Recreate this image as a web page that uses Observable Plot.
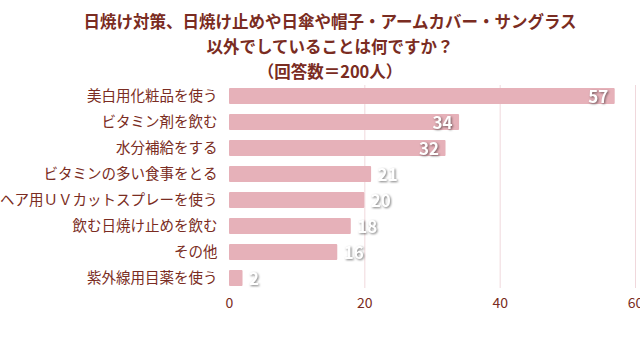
<!DOCTYPE html>
<html>
<head>
<meta charset="utf-8">
<script src="https://cdn.jsdelivr.net/npm/d3@7"></script>
<script src="https://cdn.jsdelivr.net/npm/@observablehq/plot@0.6"></script>
<style>
  html, body { margin: 0; padding: 0; background: #fff; width: 640px; height: 360px; overflow: hidden; }
  #title { height: 80px; box-sizing: border-box; padding-top: 9px; text-align: center; padding-left: 20px;
    font-family: "Noto Sans CJK JP", sans-serif; font-weight: bold; font-size: 16.5px; line-height: 25px; color: #7a2c22; }
  #chart svg { overflow: visible; }
</style>
</head>
<body>
<div id="title">日焼け対策、日焼け止めや日傘や帽子・アームカバー・サングラス<br>以外でしていることは何ですか？<br>（回答数＝200人）</div>
<div id="chart"></div>
<script>
const categories = ["美白用化粧品を使う", "ビタミン剤を飲む", "水分補給をする", "ビタミンの多い食事をとる", "ヘア用ＵＶカットスプレーを使う", "飲む日焼け止めを飲む", "その他", "紫外線用目薬を使う"];
const values = [57, 34, 32, 21, 20, 18, 16, 2];
const xTicks = [0, 20, 40, 60];

const data = categories.map((c, i) => ({category: c, value: values[i]}));
const inside = data.filter(d => d.value >= 30);
const outside = data.filter(d => d.value < 30);

const textColor = "#7a2c22";
const barColor = "#e6b1b9";

const chart = Plot.plot({
  width: 640,
  height: 280,
  marginLeft: 229,
  marginRight: 5,
  marginTop: 5,
  marginBottom: 72,
  style: {fontFamily: "'Noto Sans CJK JP', sans-serif", background: "#fff", overflow: "visible"},
  x: {domain: [0, 60], ticks: xTicks, label: null},
  y: {domain: categories, paddingInner: 0.4, paddingOuter: 0, label: null},
  marks: [
    Plot.gridX(xTicks.slice(1), {stroke: "#f0d8dc", strokeOpacity: 1}),
    Plot.barX(data, {x: "value", y: "category", fill: barColor, rx: 1}),
    Plot.axisX({ticks: xTicks, tickSize: 0, tickPadding: 10, fontSize: 14, color: textColor, label: null}),
    Plot.axisY({tickSize: 0, tickPadding: 12, fontSize: 14.5, color: textColor, label: null}),
    Plot.text(inside, {x: "value", y: "category", text: d => String(d.value), textAnchor: "end", dx: -7, dy: 1, fill: "#fff", fontSize: 17, fontWeight: "bold"}),
    Plot.text(outside, {x: "value", y: "category", text: d => String(d.value), textAnchor: "start", dx: 6, dy: 1, fill: "#fff", fontSize: 17, fontWeight: "bold"})
  ]
});
d3.select(chart).selectAll('g[aria-label="text"] text').style("filter", "drop-shadow(1px 1px 1.2px rgba(0,0,0,0.5))");
document.getElementById("chart").appendChild(chart);
</script>
</body>
</html>
